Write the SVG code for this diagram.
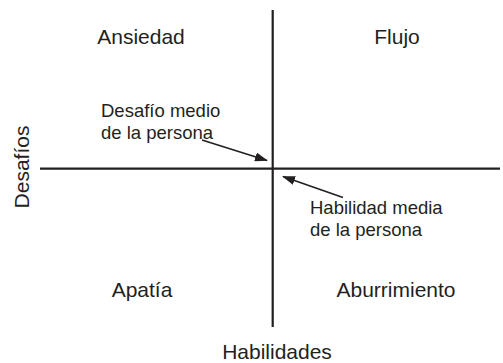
<svg xmlns="http://www.w3.org/2000/svg" width="503" height="363" viewBox="0 0 503 363">
<style>
text{font-family:"Liberation Sans",Arial,sans-serif;fill:#231f20}
.q{font-size:21px;text-anchor:middle}
.l{font-size:18.5px}
.axis{stroke:#231f20;stroke-width:2.2;fill:none}
.arr{stroke:#231f20;stroke-width:1.6;fill:none;marker-end:url(#ah)}
</style>
<defs>
<marker id="ah" markerWidth="13" markerHeight="9" refX="12" refY="4.5" orient="auto" markerUnits="userSpaceOnUse">
<path d="M0,0 L13,4.5 L0,9 Z" fill="#231f20"/>
</marker>
</defs>
<g id="connectors">
<line class="axis" x1="272.7" y1="10" x2="272.7" y2="327"/>
<line class="axis" x1="40" y1="168.7" x2="500" y2="168.7"/>
<line class="arr" x1="202" y1="140" x2="267" y2="160.5"/>
<line class="arr" x1="343" y1="197.5" x2="283" y2="176.5"/>
</g>
<g id="ansiedad"><text class="q" x="141" y="43.5">Ansiedad</text></g>
<g id="flujo"><text class="q" x="397" y="43.5">Flujo</text></g>
<g id="apatia"><text class="q" x="142" y="296.5">Apatía</text></g>
<g id="aburrimiento"><text class="q" x="396" y="296.5">Aburrimiento</text></g>
<g id="desafio-medio"><text class="l" x="101" y="117">Desafío medio</text><text class="l" x="101" y="139">de la persona</text></g>
<g id="habilidad-media"><text class="l" x="310" y="213.5">Habilidad media</text><text class="l" x="310" y="235.5">de la persona</text></g>
<g id="desafios"><text class="q" transform="translate(29,167) rotate(-90)">Desafíos</text></g>
<g id="habilidades"><text class="q" x="277" y="359">Habilidades</text></g>
</svg>
